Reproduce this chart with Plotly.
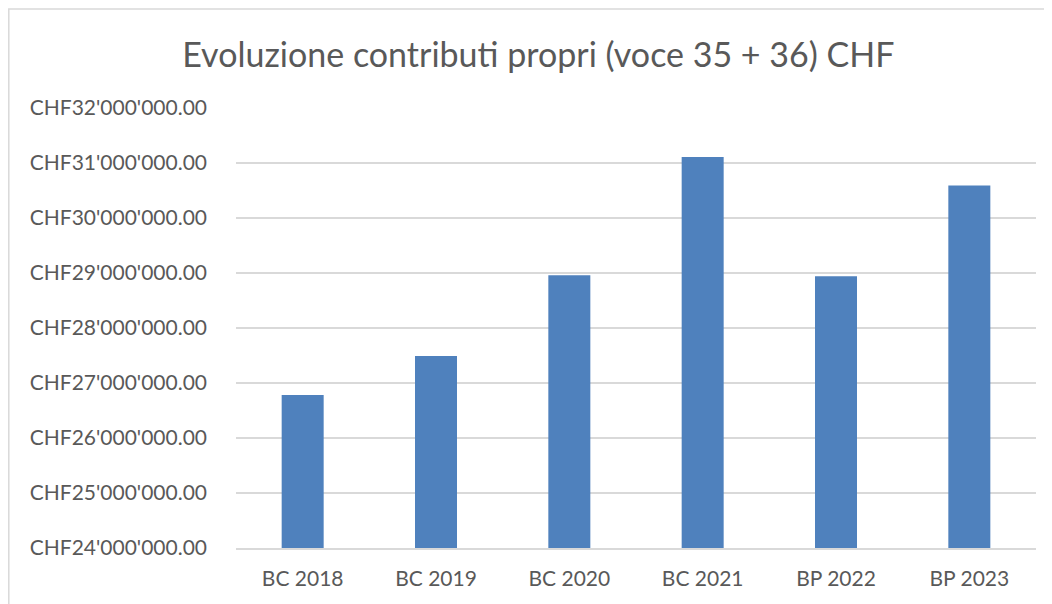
import plotly.graph_objects as go

# dati
categorie = ["BC 2018", "BC 2019", "BC 2020", "BC 2021", "BP 2022", "BP 2023"]
contributi = [26780000, 27490000, 28960000, 31110000, 28940000, 30590000]
titolo = "Evoluzione contributi propri (voce 35 + 36) CHF"

fig = go.Figure(
    go.Bar(
        x=categorie,
        y=contributi,
        marker={"color": "#4F81BD", "line": {"width": 0}},
        width=0.315,
    )
)

# la pagina html ha un margine di 8px: figura ridotta di conseguenza
fig.update_layout(
    width=1044,
    height=596,
    margin={"l": 228, "r": 16, "t": 100, "b": 56, "autoexpand": False},
    paper_bgcolor="white",
    plot_bgcolor="white",
    separators=".'",
    showlegend=False,
    font={"family": "Lato, 'Open Sans', sans-serif", "color": "#595959", "size": 21},
    title={
        "text": titolo,
        "x": 0.508,
        "xanchor": "center",
        "y": 0.921,
        "yanchor": "middle",
        "font": {"size": 34, "color": "#595959", "family": "Lato, sans-serif"},
    },
    shapes=[
        {
            "type": "rect",
            "xref": "paper",
            "yref": "paper",
            "x0": -0.284,
            "x1": 1.1,
            "y0": -0.2,
            "y1": 1.225,
            "line": {"color": "#D9D9D9", "width": 1.5},
            "fillcolor": "rgba(0,0,0,0)",
            "layer": "below",
        }
    ],
)

fig.update_yaxes(
    range=[24000000, 32000000],
    dtick=1000000,
    tickprefix="CHF",
    tickformat=",.2f",
    showgrid=True,
    gridcolor="#D9D9D9",
    gridwidth=1.5,
    zeroline=False,
    showline=False,
    ticks="",
    automargin=False,
    ticklabelstandoff=28,
    tickfont={"size": 21, "color": "#595959"},
)
fig.update_xaxes(
    showline=True,
    linecolor="#D9D9D9",
    linewidth=1.5,
    ticks="",
    automargin=False,
    ticklabelstandoff=11,
    tickfont={"size": 21, "color": "#595959"},
)

fig.write_html("out.html")
